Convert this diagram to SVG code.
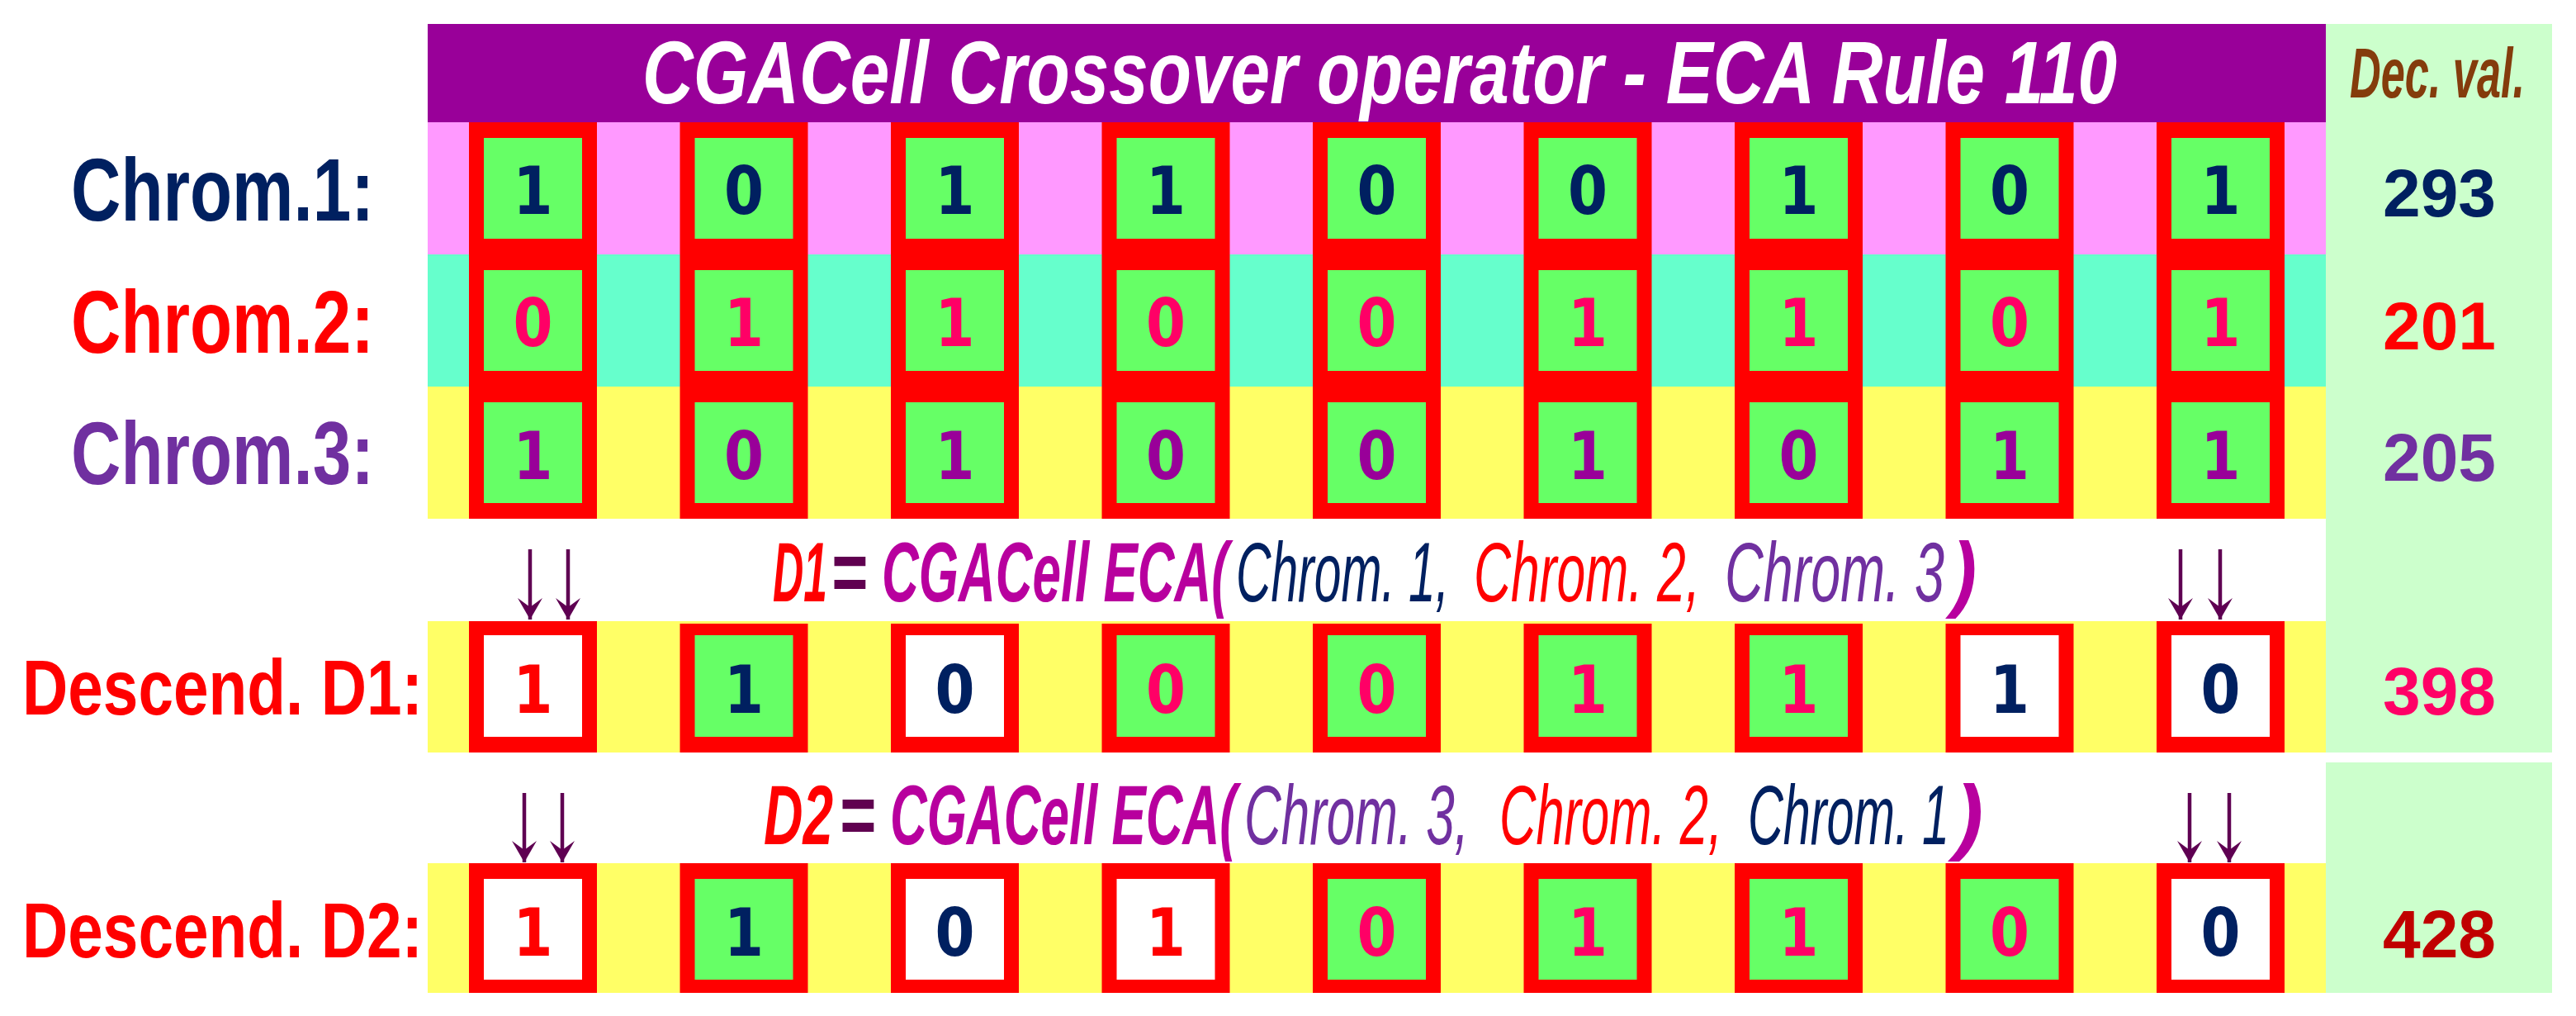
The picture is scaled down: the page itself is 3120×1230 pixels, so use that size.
<svg xmlns="http://www.w3.org/2000/svg" width="3120" height="1230" viewBox="0 0 3120 1230">
<style>
.lbl{font-family:"Liberation Sans",Arial,sans-serif;font-weight:bold}
.dig{font-family:"DejaVu Sans","Liberation Sans",sans-serif;font-weight:bold;font-size:81px;text-anchor:middle}
.num{font-family:"Liberation Sans",Arial,sans-serif;font-weight:bold;font-size:81px}
.fx{font-family:"Liberation Sans",Arial,sans-serif;font-style:italic;font-size:102px}
.b{font-weight:bold}
.red{fill:#FF0000}
.grn{fill:#66FF66}
.wht{fill:#FFFFFF}
.navy{fill:#002060}
.pk{fill:#FF0066}
.pur{fill:#990099}
.vio{fill:#7030A0}
.mag{fill:#B8009E}
.arr{stroke:#5F0052;stroke-width:4.5;fill:none;marker-end:url(#ah)}
</style>
<defs>
<marker id="ah" markerUnits="userSpaceOnUse" markerWidth="40" markerHeight="40" viewBox="-30 -20 32 40" refX="0" refY="0" orient="auto">
<path d="M0,0 L-26,-15 L-15,0 L-26,15 Z" fill="#5F0052"/>
</marker>
</defs>
<rect width="3120" height="1230" fill="#FFFFFF"/>
<g id="background">
<rect x="518" y="29" width="2299" height="119" fill="#990099"/>
<rect x="2817" y="29" width="274" height="882" fill="#CCFFCC"/>
<rect x="2817" y="923" width="274" height="279" fill="#CCFFCC"/>
<rect x="518" y="148" width="2299" height="160" fill="#FF99FF"/>
<rect x="518" y="308" width="2299" height="160" fill="#66FFCC"/>
<rect x="518" y="468" width="2299" height="160" fill="#FFFF66"/>
<rect x="518" y="752" width="2299" height="159" fill="#FFFF66"/>
<rect x="518" y="1045" width="2299" height="157" fill="#FFFF66"/>
</g>
<g id="title">
<text x="778" y="125" class="lbl" font-style="italic" font-size="107" fill="#FFFFFF" textLength="1786" lengthAdjust="spacingAndGlyphs">CGACell Crossover operator - ECA Rule 110</text>
<text x="2846" y="118" class="lbl" font-style="italic" font-size="86" fill="#843C0C" textLength="212" lengthAdjust="spacingAndGlyphs">Dec. val.</text>
</g>
<g id="row-labels">
<text x="86" y="267" class="lbl navy" font-size="107" textLength="367" lengthAdjust="spacingAndGlyphs">Chrom.1:</text>
<text x="86" y="427" class="lbl red" font-size="107" textLength="367" lengthAdjust="spacingAndGlyphs">Chrom.2:</text>
<text x="86" y="586" class="lbl vio" font-size="107" textLength="367" lengthAdjust="spacingAndGlyphs">Chrom.3:</text>
<text x="27" y="865" class="lbl red" font-size="95" textLength="485" lengthAdjust="spacingAndGlyphs">Descend. D1:</text>
<text x="27" y="1159" class="lbl red" font-size="95" textLength="485" lengthAdjust="spacingAndGlyphs">Descend. D2:</text>
</g>
<g id="chrom-columns">
<rect x="568" y="148" width="155" height="480" class="red"/>
<rect x="823.5" y="148" width="155" height="480" class="red"/>
<rect x="1079" y="148" width="155" height="480" class="red"/>
<rect x="1334.5" y="148" width="155" height="480" class="red"/>
<rect x="1590" y="148" width="155" height="480" class="red"/>
<rect x="1845.5" y="148" width="155" height="480" class="red"/>
<rect x="2101" y="148" width="155" height="480" class="red"/>
<rect x="2356.5" y="148" width="155" height="480" class="red"/>
<rect x="2612" y="148" width="155" height="480" class="red"/>
</g>
<g id="chrom1">
<g id="c1-1"><rect x="586" y="167" width="119" height="122" class="grn"/><text x="645.5" y="259" class="dig navy" textLength="48" lengthAdjust="spacingAndGlyphs">1</text></g>
<g id="c1-2"><rect x="841.5" y="167" width="119" height="122" class="grn"/><text x="901" y="259" class="dig navy" textLength="48" lengthAdjust="spacingAndGlyphs">0</text></g>
<g id="c1-3"><rect x="1097" y="167" width="119" height="122" class="grn"/><text x="1156.5" y="259" class="dig navy" textLength="48" lengthAdjust="spacingAndGlyphs">1</text></g>
<g id="c1-4"><rect x="1352.5" y="167" width="119" height="122" class="grn"/><text x="1412" y="259" class="dig navy" textLength="48" lengthAdjust="spacingAndGlyphs">1</text></g>
<g id="c1-5"><rect x="1608" y="167" width="119" height="122" class="grn"/><text x="1667.5" y="259" class="dig navy" textLength="48" lengthAdjust="spacingAndGlyphs">0</text></g>
<g id="c1-6"><rect x="1863.5" y="167" width="119" height="122" class="grn"/><text x="1923" y="259" class="dig navy" textLength="48" lengthAdjust="spacingAndGlyphs">0</text></g>
<g id="c1-7"><rect x="2119" y="167" width="119" height="122" class="grn"/><text x="2178.5" y="259" class="dig navy" textLength="48" lengthAdjust="spacingAndGlyphs">1</text></g>
<g id="c1-8"><rect x="2374.5" y="167" width="119" height="122" class="grn"/><text x="2434" y="259" class="dig navy" textLength="48" lengthAdjust="spacingAndGlyphs">0</text></g>
<g id="c1-9"><rect x="2630" y="167" width="119" height="122" class="grn"/><text x="2689.5" y="259" class="dig navy" textLength="48" lengthAdjust="spacingAndGlyphs">1</text></g>
</g>
<g id="chrom2">
<g id="c2-1"><rect x="586" y="327" width="119" height="122" class="grn"/><text x="645.5" y="419" class="dig pk" textLength="48" lengthAdjust="spacingAndGlyphs">0</text></g>
<g id="c2-2"><rect x="841.5" y="327" width="119" height="122" class="grn"/><text x="901" y="419" class="dig pk" textLength="48" lengthAdjust="spacingAndGlyphs">1</text></g>
<g id="c2-3"><rect x="1097" y="327" width="119" height="122" class="grn"/><text x="1156.5" y="419" class="dig pk" textLength="48" lengthAdjust="spacingAndGlyphs">1</text></g>
<g id="c2-4"><rect x="1352.5" y="327" width="119" height="122" class="grn"/><text x="1412" y="419" class="dig pk" textLength="48" lengthAdjust="spacingAndGlyphs">0</text></g>
<g id="c2-5"><rect x="1608" y="327" width="119" height="122" class="grn"/><text x="1667.5" y="419" class="dig pk" textLength="48" lengthAdjust="spacingAndGlyphs">0</text></g>
<g id="c2-6"><rect x="1863.5" y="327" width="119" height="122" class="grn"/><text x="1923" y="419" class="dig pk" textLength="48" lengthAdjust="spacingAndGlyphs">1</text></g>
<g id="c2-7"><rect x="2119" y="327" width="119" height="122" class="grn"/><text x="2178.5" y="419" class="dig pk" textLength="48" lengthAdjust="spacingAndGlyphs">1</text></g>
<g id="c2-8"><rect x="2374.5" y="327" width="119" height="122" class="grn"/><text x="2434" y="419" class="dig pk" textLength="48" lengthAdjust="spacingAndGlyphs">0</text></g>
<g id="c2-9"><rect x="2630" y="327" width="119" height="122" class="grn"/><text x="2689.5" y="419" class="dig pk" textLength="48" lengthAdjust="spacingAndGlyphs">1</text></g>
</g>
<g id="chrom3">
<g id="c3-1"><rect x="586" y="487" width="119" height="122" class="grn"/><text x="645.5" y="580" class="dig pur" textLength="48" lengthAdjust="spacingAndGlyphs">1</text></g>
<g id="c3-2"><rect x="841.5" y="487" width="119" height="122" class="grn"/><text x="901" y="580" class="dig pur" textLength="48" lengthAdjust="spacingAndGlyphs">0</text></g>
<g id="c3-3"><rect x="1097" y="487" width="119" height="122" class="grn"/><text x="1156.5" y="580" class="dig pur" textLength="48" lengthAdjust="spacingAndGlyphs">1</text></g>
<g id="c3-4"><rect x="1352.5" y="487" width="119" height="122" class="grn"/><text x="1412" y="580" class="dig pur" textLength="48" lengthAdjust="spacingAndGlyphs">0</text></g>
<g id="c3-5"><rect x="1608" y="487" width="119" height="122" class="grn"/><text x="1667.5" y="580" class="dig pur" textLength="48" lengthAdjust="spacingAndGlyphs">0</text></g>
<g id="c3-6"><rect x="1863.5" y="487" width="119" height="122" class="grn"/><text x="1923" y="580" class="dig pur" textLength="48" lengthAdjust="spacingAndGlyphs">1</text></g>
<g id="c3-7"><rect x="2119" y="487" width="119" height="122" class="grn"/><text x="2178.5" y="580" class="dig pur" textLength="48" lengthAdjust="spacingAndGlyphs">0</text></g>
<g id="c3-8"><rect x="2374.5" y="487" width="119" height="122" class="grn"/><text x="2434" y="580" class="dig pur" textLength="48" lengthAdjust="spacingAndGlyphs">1</text></g>
<g id="c3-9"><rect x="2630" y="487" width="119" height="122" class="grn"/><text x="2689.5" y="580" class="dig pur" textLength="48" lengthAdjust="spacingAndGlyphs">1</text></g>
</g>
<g id="d1">
<g id="d1-1"><rect x="568" y="752" width="155" height="159" class="red"/><rect x="586" y="769" width="119" height="123" class="wht"/><text x="645.5" y="863" class="dig red" textLength="48" lengthAdjust="spacingAndGlyphs">1</text></g>
<g id="d1-2"><rect x="823.5" y="755" width="155" height="156" class="red"/><rect x="841.5" y="769" width="119" height="123" class="grn"/><text x="901" y="863" class="dig navy" textLength="48" lengthAdjust="spacingAndGlyphs">1</text></g>
<g id="d1-3"><rect x="1079" y="755" width="155" height="156" class="red"/><rect x="1097" y="769" width="119" height="123" class="wht"/><text x="1156.5" y="863" class="dig navy" textLength="48" lengthAdjust="spacingAndGlyphs">0</text></g>
<g id="d1-4"><rect x="1334.5" y="755" width="155" height="156" class="red"/><rect x="1352.5" y="769" width="119" height="123" class="grn"/><text x="1412" y="863" class="dig pk" textLength="48" lengthAdjust="spacingAndGlyphs">0</text></g>
<g id="d1-5"><rect x="1590" y="755" width="155" height="156" class="red"/><rect x="1608" y="769" width="119" height="123" class="grn"/><text x="1667.5" y="863" class="dig pk" textLength="48" lengthAdjust="spacingAndGlyphs">0</text></g>
<g id="d1-6"><rect x="1845.5" y="755" width="155" height="156" class="red"/><rect x="1863.5" y="769" width="119" height="123" class="grn"/><text x="1923" y="863" class="dig pk" textLength="48" lengthAdjust="spacingAndGlyphs">1</text></g>
<g id="d1-7"><rect x="2101" y="755" width="155" height="156" class="red"/><rect x="2119" y="769" width="119" height="123" class="grn"/><text x="2178.5" y="863" class="dig pk" textLength="48" lengthAdjust="spacingAndGlyphs">1</text></g>
<g id="d1-8"><rect x="2356.5" y="755" width="155" height="156" class="red"/><rect x="2374.5" y="769" width="119" height="123" class="wht"/><text x="2434" y="863" class="dig navy" textLength="48" lengthAdjust="spacingAndGlyphs">1</text></g>
<g id="d1-9"><rect x="2612" y="752" width="155" height="159" class="red"/><rect x="2630" y="769" width="119" height="123" class="wht"/><text x="2689.5" y="863" class="dig navy" textLength="48" lengthAdjust="spacingAndGlyphs">0</text></g>
</g>
<g id="d2">
<g id="d2-1"><rect x="568" y="1045" width="155" height="157" class="red"/><rect x="586" y="1064" width="119" height="122" class="wht"/><text x="645.5" y="1157" class="dig red" textLength="48" lengthAdjust="spacingAndGlyphs">1</text></g>
<g id="d2-2"><rect x="823.5" y="1045" width="155" height="157" class="red"/><rect x="841.5" y="1064" width="119" height="122" class="grn"/><text x="901" y="1157" class="dig navy" textLength="48" lengthAdjust="spacingAndGlyphs">1</text></g>
<g id="d2-3"><rect x="1079" y="1045" width="155" height="157" class="red"/><rect x="1097" y="1064" width="119" height="122" class="wht"/><text x="1156.5" y="1157" class="dig navy" textLength="48" lengthAdjust="spacingAndGlyphs">0</text></g>
<g id="d2-4"><rect x="1334.5" y="1045" width="155" height="157" class="red"/><rect x="1352.5" y="1064" width="119" height="122" class="wht"/><text x="1412" y="1157" class="dig red" textLength="48" lengthAdjust="spacingAndGlyphs">1</text></g>
<g id="d2-5"><rect x="1590" y="1045" width="155" height="157" class="red"/><rect x="1608" y="1064" width="119" height="122" class="grn"/><text x="1667.5" y="1157" class="dig pk" textLength="48" lengthAdjust="spacingAndGlyphs">0</text></g>
<g id="d2-6"><rect x="1845.5" y="1045" width="155" height="157" class="red"/><rect x="1863.5" y="1064" width="119" height="122" class="grn"/><text x="1923" y="1157" class="dig pk" textLength="48" lengthAdjust="spacingAndGlyphs">1</text></g>
<g id="d2-7"><rect x="2101" y="1045" width="155" height="157" class="red"/><rect x="2119" y="1064" width="119" height="122" class="grn"/><text x="2178.5" y="1157" class="dig pk" textLength="48" lengthAdjust="spacingAndGlyphs">1</text></g>
<g id="d2-8"><rect x="2356.5" y="1045" width="155" height="157" class="red"/><rect x="2374.5" y="1064" width="119" height="122" class="grn"/><text x="2434" y="1157" class="dig pk" textLength="48" lengthAdjust="spacingAndGlyphs">0</text></g>
<g id="d2-9"><rect x="2612" y="1045" width="155" height="157" class="red"/><rect x="2630" y="1064" width="119" height="122" class="wht"/><text x="2689.5" y="1157" class="dig navy" textLength="48" lengthAdjust="spacingAndGlyphs">0</text></g>
</g>
<g id="dec-values">
<text x="2886" y="262" class="num navy" textLength="137" lengthAdjust="spacingAndGlyphs">293</text>
<text x="2886" y="423" class="num red" textLength="137" lengthAdjust="spacingAndGlyphs">201</text>
<text x="2886" y="582" class="num vio" textLength="137" lengthAdjust="spacingAndGlyphs">205</text>
<text x="2886" y="865" class="num pk" textLength="137" lengthAdjust="spacingAndGlyphs">398</text>
<text x="2886" y="1159" class="num" fill="#C00000" textLength="137" lengthAdjust="spacingAndGlyphs">428</text>
</g>
<g id="formula-d1">
<text x="936" y="728" class="fx b red" textLength="66" lengthAdjust="spacingAndGlyphs">D1</text>
<text x="1006" y="728" class="fx b" fill="#600050" textLength="44" lengthAdjust="spacingAndGlyphs">=</text>
<text x="1068" y="728" class="fx b mag" textLength="420" lengthAdjust="spacingAndGlyphs">CGACell ECA(</text>
<text x="1497" y="728" class="fx navy" textLength="258" lengthAdjust="spacingAndGlyphs">Chrom. 1,</text>
<text x="1785" y="728" class="fx red" textLength="274" lengthAdjust="spacingAndGlyphs">Chrom. 2,</text>
<text x="2089" y="728" class="fx vio" textLength="266" lengthAdjust="spacingAndGlyphs">Chrom. 3</text>
<text x="2364" y="728" class="fx b mag" textLength="30" lengthAdjust="spacingAndGlyphs">)</text>
</g>
<g id="formula-d2">
<text x="925" y="1022" class="fx b red" textLength="84" lengthAdjust="spacingAndGlyphs">D2</text>
<text x="1016" y="1022" class="fx b" fill="#600050" textLength="44" lengthAdjust="spacingAndGlyphs">=</text>
<text x="1078" y="1022" class="fx b mag" textLength="420" lengthAdjust="spacingAndGlyphs">CGACell ECA(</text>
<text x="1507" y="1022" class="fx vio" textLength="272" lengthAdjust="spacingAndGlyphs">Chrom. 3,</text>
<text x="1816" y="1022" class="fx red" textLength="270" lengthAdjust="spacingAndGlyphs">Chrom. 2,</text>
<text x="2117" y="1022" class="fx navy" textLength="244" lengthAdjust="spacingAndGlyphs">Chrom. 1</text>
<text x="2368" y="1022" class="fx b mag" textLength="34" lengthAdjust="spacingAndGlyphs">)</text>
</g>
<g id="connectors">
<line x1="642" y1="665" x2="642" y2="750" class="arr"/>
<line x1="688" y1="665" x2="688" y2="750" class="arr"/>
<line x1="2641" y1="665" x2="2641" y2="750" class="arr"/>
<line x1="2689" y1="665" x2="2689" y2="750" class="arr"/>
<line x1="635" y1="960" x2="635" y2="1044" class="arr"/>
<line x1="681" y1="960" x2="681" y2="1044" class="arr"/>
<line x1="2652" y1="960" x2="2652" y2="1044" class="arr"/>
<line x1="2700" y1="960" x2="2700" y2="1044" class="arr"/>
</g>
</svg>
